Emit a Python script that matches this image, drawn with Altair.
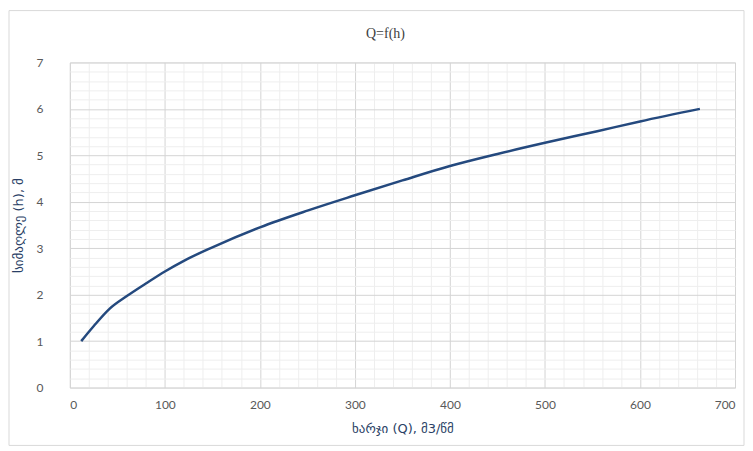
import altair as alt
import pandas as pd

# Data
flow_q = [12, 25, 42, 60, 80, 100, 120, 150, 200, 250, 300, 350, 400, 450, 500, 555, 600, 663]
height_h = [1.0, 1.32, 1.70, 1.97, 2.24, 2.50, 2.73, 3.02, 3.45, 3.81, 4.14, 4.46, 4.77, 5.03, 5.27, 5.52, 5.73, 6.0]

x_ticks = list(range(0, 701, 20))
y_ticks = [round(v * 0.2, 1) for v in range(0, 36)]

df = pd.DataFrame({"Q": flow_q, "h": height_h})

major_col = "#d4d4d4"
minor_col = "#eeeeee"

x_axis = alt.Axis(
    values=x_ticks,
    labelExpr="datum.value % 100 === 0 ? datum.label : ''",
    grid=True,
    gridColor={"condition": {"test": "datum.value % 100 === 0", "value": major_col}, "value": minor_col},
    ticks=False,
    domain=False,
    labelFont="Lato",
    labelFontSize=12,
    labelColor="#595959",
    labelPadding=12,
    title="ხარჯი (Q),  მ3/წმ",
    titleFont="DejaVu Sans",
    titleFontSize=13,
    titleFontWeight="normal",
    titleColor="#2a3f66",
    titlePadding=12,
)

y_axis = alt.Axis(
    values=y_ticks,
    labelExpr="abs(datum.value - round(datum.value)) < 0.01 ? format(datum.value, 'd') : ''",
    grid=True,
    gridColor={"condition": {"test": "abs(datum.value - round(datum.value)) < 0.01", "value": major_col}, "value": minor_col},
    ticks=False,
    domain=False,
    labelFont="Lato",
    labelFontSize=12,
    labelColor="#595959",
    labelPadding=27,
    title="სიმაღლე (h), მ",
    titleFont="DejaVu Sans",
    titleFontSize=13,
    titleFontWeight="normal",
    titleColor="#2a3f66",
    titlePadding=10,
)

line = alt.Chart(df).mark_line(color="#24497e", strokeWidth=2.5, interpolate="monotone").encode(
    x=alt.X("Q:Q", scale=alt.Scale(domain=[0, 700], nice=False), axis=x_axis),
    y=alt.Y("h:Q", scale=alt.Scale(domain=[0, 7], nice=False), axis=y_axis),
)

frame = alt.Chart(pd.DataFrame({"k": [0]})).mark_rect(
    fill=None, stroke="#d9d9d9", strokeWidth=1
).encode(
    x=alt.value(-61), x2=alt.value(676), y=alt.value(-52), y2=alt.value(384)
)

chart = alt.layer(frame, line).properties(
    width=667,
    height=326,
    padding={"left": 62, "top": 54, "right": 10, "bottom": 62},
    autosize=alt.AutoSizeParams(type="none"),
    title=alt.Title(
        "Q=f(h)",
        font="Liberation Serif",
        fontSize=14,
        fontWeight="normal",
        color="#404040",
        anchor="middle",
        dx=-17,
        offset=-31,
    ),
).configure_view(stroke=None).configure(background="white")

chart.save("out.html", embed_options={"renderer": "svg", "actions": False})
